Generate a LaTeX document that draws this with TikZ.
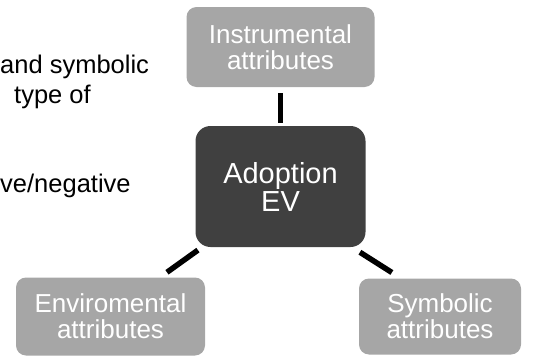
\documentclass[tikz,border=0pt]{standalone}
\usepackage{fontspec}
\setmainfont{Liberation Sans}
\usetikzlibrary{calc}
\definecolor{boxgrey}{HTML}{A6A6A6}
\definecolor{boxdark}{HTML}{404040}
\begin{document}
\begin{tikzpicture}[x=1pt,y=-1pt,
  attrbox/.style={draw=none,fill=boxgrey,rounded corners=10pt,text=white,align=center,
    font=\fontsize{26}{26}\selectfont,inner sep=0pt},
  centerbox/.style={draw=none,fill=boxdark,rounded corners=15pt,text=white,align=center,
    font=\fontsize{29}{28}\selectfont,inner sep=0pt,minimum width=170pt,minimum height=121pt},
  sidetext/.style={anchor=base west,inner sep=0pt,font=\fontsize{25.5}{26}\selectfont,text=black},
  link/.style={line width=5.5pt,draw=black,line cap=butt}]
\useasboundingbox (0,0) rectangle (536,356);
\node[sidetext] (t1) at (0,73) {and symbolic};
\node[sidetext] (t2) at (14,103) {type of};
\node[sidetext] (t3) at (0,192) {ve/negative};
\node[attrbox,minimum width=188pt,minimum height=80pt] (inst) at (280.5,47) {Instrumental\\attributes};
\node[centerbox] (adopt) at (280.5,186.5) {Adoption\\EV};
\node[attrbox,minimum width=189pt,minimum height=78pt] (env) at (110.5,316.5) {Enviromental\\attributes};
\node[attrbox,minimum width=162pt,minimum height=76pt] (sym) at (440,316.5) {Symbolic\\attributes};
\draw[link,shorten <=3pt,shorten >=6pt] (adopt.north) -- (inst.south);
\draw[link,shorten <=5pt,shorten >=8.6pt] ($(adopt.south)+(-78.5,0)$) -- ($(env.north)+(49.5,0)$);
\draw[link,shorten <=9.4pt,shorten >=10.8pt] ($(adopt.south)+(71.5,0)$) -- ($(sym.north)+(-39,0)$);
\end{tikzpicture}
\end{document}
